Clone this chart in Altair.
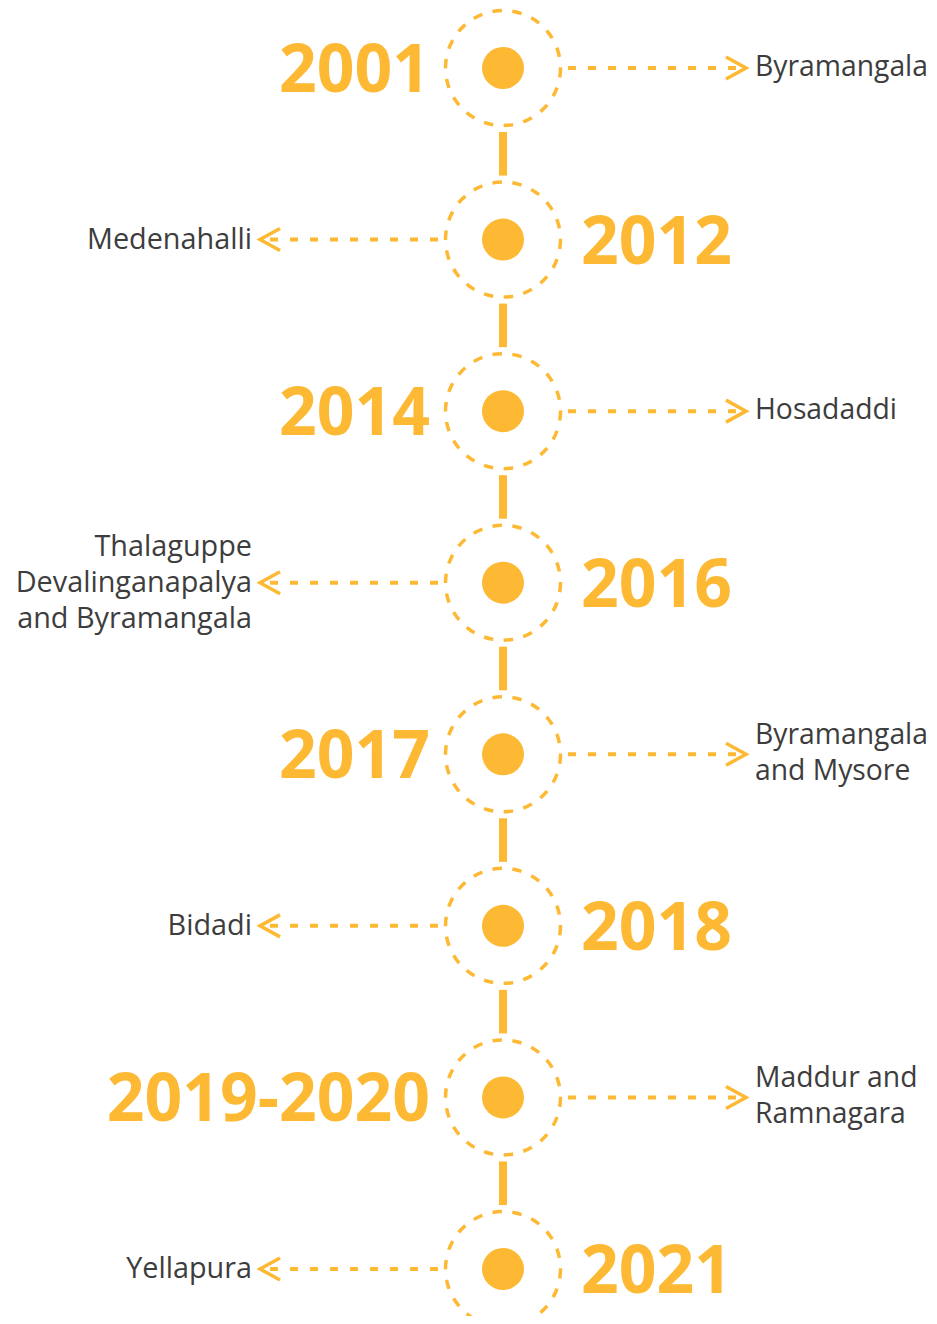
import altair as alt
import pandas as pd

# ---- data -------------------------------------------------------------
years = ["2001", "2012", "2014", "2016", "2017", "2018", "2019-2020", "2021"]
places = [
    "Byramangala",
    "Medenahalli",
    "Hosadaddi",
    "Thalaguppe\nDevalinganapalya\nand Byramangala",
    "Byramangala\nand Mysore",
    "Bidadi",
    "Maddur and\nRamnagara",
    "Yellapura",
]
label_side = ["R", "L", "R", "L", "R", "L", "R", "L"]

YELLOW = "#FDB933"
GRAY = "#3d3d3d"
FONT = "Open Sans"
ROW_PX = 171.57
LINE_H = 36

df = pd.DataFrame({
    "row": list(range(len(years))),
    "year": years,
    "place": places,
    "side": label_side,
})
df["dir"] = df["side"].map({"R": 1, "L": -1})
df["nlines"] = df["place"].str.count("\n") + 1

W, H = 921, 1308
xs = alt.Scale(domain=[-495, 426])
ys = alt.Scale(domain=[-0.3497, 7.2740], reverse=True)
Y = alt.Y("row:Q", scale=ys, axis=None)

base = alt.Chart(df).transform_calculate(
    cx="0",
    a0="datum.dir * 65",
    a1="datum.dir * 243",
    yx="datum.dir == 1 ? -73 : 78",
    lx="datum.dir == 1 ? 252 : -251",
    ly=f"datum.row - (datum.nlines - 1) * {LINE_H / 2} / {ROW_PX}",
)

def X(field):
    return alt.X(f"{field}:Q", scale=xs, axis=None)

LY = alt.Y("ly:Q", scale=ys, axis=None)

# connectors between circles
connectors = base.transform_filter("datum.row < 7").transform_calculate(
    nxt="datum.row + 1"
).mark_rule(
    color=YELLOW, strokeWidth=8, yOffset=64, y2Offset=-64, strokeCap="butt"
).encode(x=X("cx"), y=Y, y2="nxt:Q")

# dashed outer ring
ring = base.mark_point(
    shape="circle", filled=False, size=115 * 115, color=YELLOW,
    strokeWidth=3.5, strokeDash=[9.5, 10.5], opacity=1
).encode(x=X("cx"), y=Y)

# inner dot
dot = base.mark_point(
    shape="circle", filled=True, size=42 * 42, color=YELLOW, opacity=1
).encode(x=X("cx"), y=Y)

# dashed arrow lines
arrow_line = base.mark_rule(
    color=YELLOW, strokeWidth=4, strokeDash=[8, 12]
).encode(x=X("a0"), x2="a1:Q", y=Y)

pathR = "M -1.82 -1 L 0 0 L -1.82 1"
pathL = "M 1.82 -1 L 0 0 L 1.82 1"
arrow_head = base.mark_point(
    filled=False, size=484, color=YELLOW, strokeWidth=3.5, opacity=1
).encode(
    x=X("a1"), y=Y,
    shape=alt.Shape("side:N", scale=alt.Scale(domain=["L", "R"], range=[pathL, pathR]), legend=None),
)

# years
year_left = base.transform_filter("datum.side == 'R'").mark_text(
    font=FONT, fontWeight="bold", fontSize=66, color=YELLOW,
    align="right", baseline="alphabetic", dy=24
).encode(x=X("yx"), y=Y, text="year:N")
year_right = base.transform_filter("datum.side == 'L'").mark_text(
    font=FONT, fontWeight="bold", fontSize=66, color=YELLOW,
    align="left", baseline="alphabetic", dy=24
).encode(x=X("yx"), y=Y, text="year:N")

# place labels
lab_right = base.transform_filter("datum.side == 'R'").mark_text(
    font=FONT, fontSize=28.3, color=GRAY, align="left", baseline="middle",
    lineBreak="\n", lineHeight=LINE_H
).encode(x=X("lx"), y=LY, text="place:N")
lab_left = base.transform_filter("datum.side == 'L'").mark_text(
    font=FONT, fontSize=28.8, color=GRAY, align="right", baseline="middle",
    lineBreak="\n", lineHeight=LINE_H
).encode(x=X("lx"), y=LY, text="place:N")

chart = alt.layer(
    connectors, arrow_line, arrow_head, ring, dot,
    year_left, year_right, lab_right, lab_left
).properties(
    width=W, height=H, padding=0, autosize=alt.AutoSizeParams(type="none")
).configure_view(stroke=None)

chart.save("out.html", embed_options={"renderer": "svg", "actions": False})
